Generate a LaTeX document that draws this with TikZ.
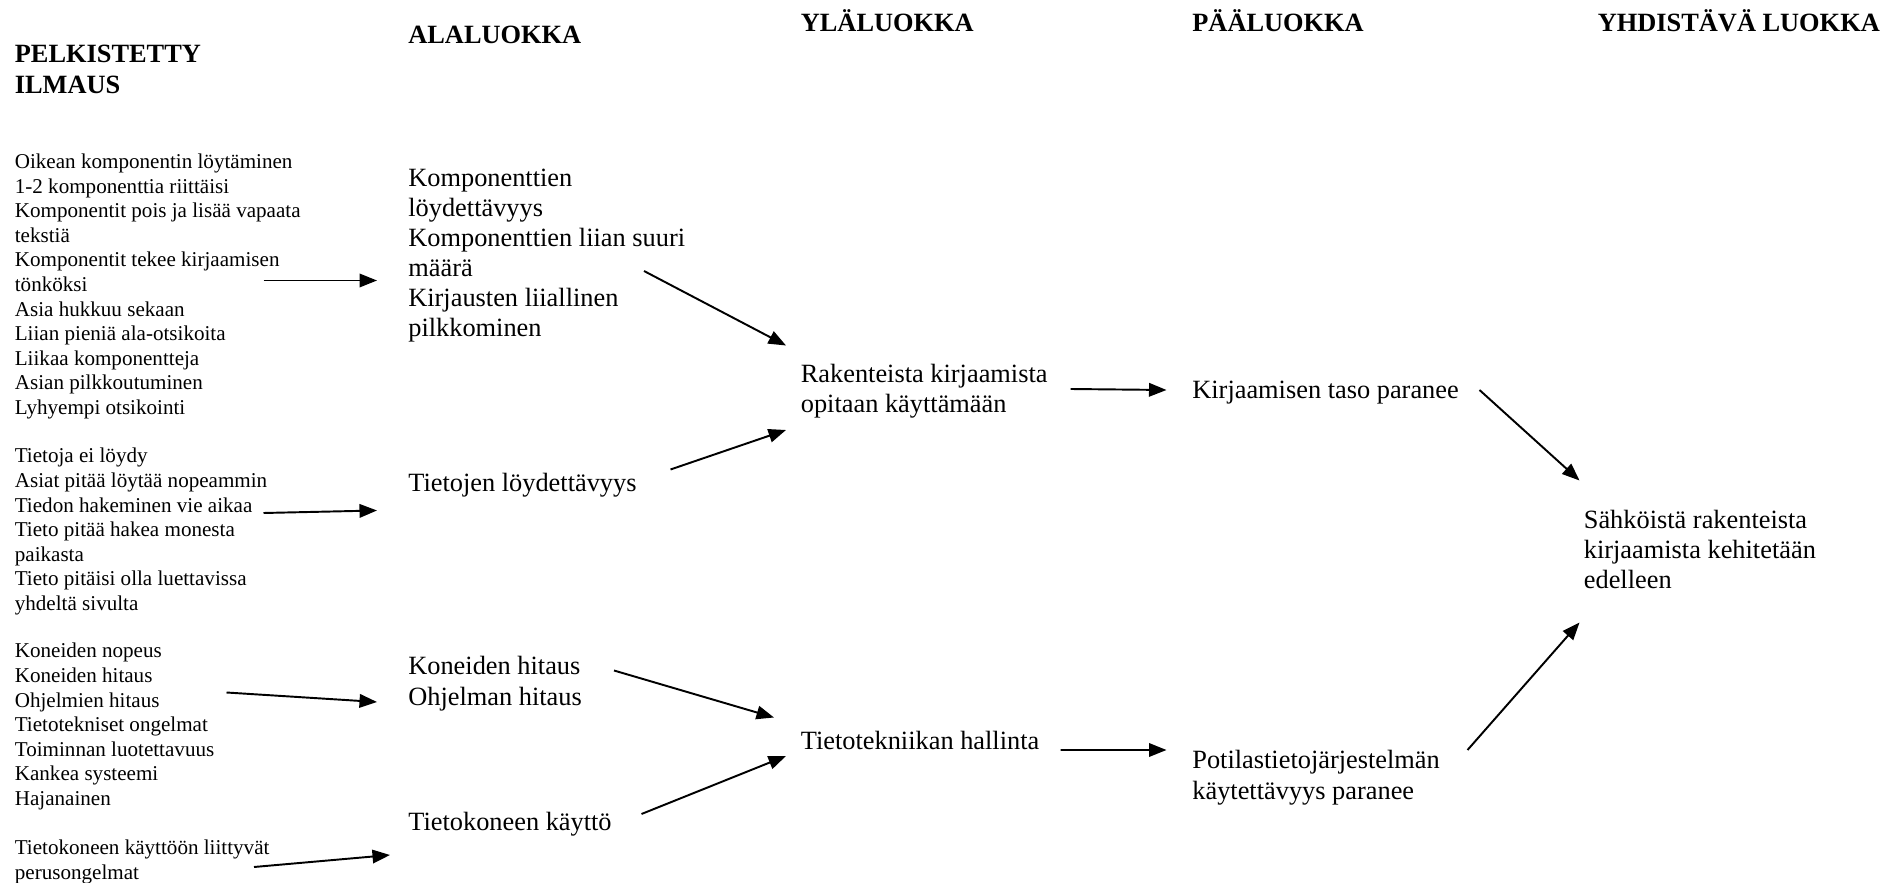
\documentclass[tikz,border=0pt]{standalone}
\usepackage{fontspec}
\setmainfont{Liberation Serif}
\usetikzlibrary{arrows.meta}

\begin{document}
\begin{tikzpicture}[
    lista/.style={font=\fontsize{12}{14}\selectfont, align=left, anchor=base west, inner sep=0},
    luokka/.style={font=\fontsize{15}{17.1}\selectfont, align=left, anchor=base west, inner sep=0},
    otsikko/.style={font=\fontsize{15}{17.8}\selectfont\bfseries, align=left, anchor=base west, inner sep=0},
    nuoli/.style={-{Triangle[length=0.35cm,width=0.27cm]}, line width=1.1pt}]
  \useasboundingbox (0,0) rectangle (37.76,-17.65);
  % otsikot (base = viimeinen rivi)
  \node (h1) at (0.29,-1.87) [otsikko] {PELKISTETTY\\ILMAUS};
  \node (h2) at (8.16,-0.88) [otsikko] {ALALUOKKA};
  \node (h3) at (16.01,-0.64) [otsikko] {YLÄLUOKKA};
  \node (h4) at (23.84,-0.64) [otsikko] {PÄÄLUOKKA};
  \node (h5) at (31.95,-0.64) [otsikko] {YHDISTÄVÄ LUOKKA};
  % pelkistetyt ilmaukset
  \node (l1) at (0.29,-8.29) [lista] {Oikean komponentin löytäminen\\1-2 komponenttia riittäisi\\Komponentit pois ja lisää vapaata\\tekstiä\\Komponentit tekee kirjaamisen\\tönköksi\\Asia hukkuu sekaan\\Liian pieniä ala-otsikoita\\Liikaa komponentteja\\Asian pilkkoutuminen\\Lyhyempi otsikointi};
  \node (l2) at (0.29,-12.21) [lista] {Tietoja ei löydy\\Asiat pitää löytää nopeammin\\Tiedon hakeminen vie aikaa\\Tieto pitää hakea monesta\\paikasta\\Tieto pitäisi olla luettavissa\\yhdeltä sivulta};
  \node (l3) at (0.29,-16.11) [lista] {Koneiden nopeus\\Koneiden hitaus\\Ohjelmien hitaus\\Tietotekniset ongelmat\\Toiminnan luotettavuus\\Kankea systeemi\\Hajanainen};
  \node (l4) at (0.29,-17.59) [lista] {Tietokoneen käyttöön liittyvät\\perusongelmat};
  % alaluokat
  \node (a1) at (8.16,-6.73) [luokka] {Komponenttien\\löydettävyys\\Komponenttien liian suuri\\määrä\\Kirjausten liiallinen\\pilkkominen};
  \node (a2) at (8.16,-9.84) [luokka] {Tietojen löydettävyys};
  \node (a3) at (8.16,-14.10) [luokka] {Koneiden hitaus\\Ohjelman hitaus};
  \node (a4) at (8.16,-16.60) [luokka] {Tietokoneen käyttö};
  % yläluokat, pääluokat
  \node (y1) at (16.01,-8.25) [luokka] {Rakenteista kirjaamista\\opitaan käyttämään};
  \node (y2) at (16.01,-14.99) [luokka] {Tietotekniikan hallinta};
  \node (p1) at (23.84,-7.98) [luokka] {Kirjaamisen taso paranee};
  \node (p2) at (23.84,-15.98) [luokka] {Potilastietojärjestelmän\\käytettävyys paranee};
  \node (z) at (31.67,-11.78) [luokka] {Sähköistä rakenteista\\kirjaamista kehitetään\\edelleen};
  % nuolet
  \draw[nuoli] ([shift={(4.98,2.68)}]l1.base west) -- ([shift={(-0.62,1.12)}]a1.base west);
  \draw[nuoli] ([shift={(4.98,1.95)}]l2.base west) -- ([shift={(-0.62,-0.37)}]a2.base west);
  \draw[nuoli] ([shift={(4.24,2.26)}]l3.base west) -- ([shift={(-0.62,0.06)}]a3.base west);
  \draw[nuoli] ([shift={(4.79,0.25)}]l4.base west) -- ([shift={(-0.36,-0.50)}]a4.base west);
  \draw[nuoli] ([shift={(4.72,1.31)}]a1.base west) -- ([shift={(-0.29,1.34)}]y1.base west);
  \draw[nuoli] ([shift={(5.25,0.45)}]a2.base west) -- ([shift={(-0.29,-0.35)}]y1.base west);
  \draw[nuoli] ([shift={(4.12,0.69)}]a3.base west) -- ([shift={(-0.53,0.64)}]y2.base west);
  \draw[nuoli] ([shift={(4.67,0.32)}]a4.base west) -- ([shift={(-0.29,-0.13)}]y2.base west);
  \draw[nuoli] ([shift={(5.40,0.47)}]y1.base west) -- ([shift={(-0.51,0.18)}]p1.base west);
  \draw[nuoli] ([shift={(5.20,-0.01)}]y2.base west) -- ([shift={(-0.51,0.98)}]p2.base west);
  \draw[nuoli] ([shift={(5.75,0.18)}]p1.base west) -- ([shift={(-0.08,2.17)}]z.base west);
  \draw[nuoli] ([shift={(5.51,0.98)}]p2.base west) -- ([shift={(-0.08,-0.67)}]z.base west);
\end{tikzpicture}
\end{document}
